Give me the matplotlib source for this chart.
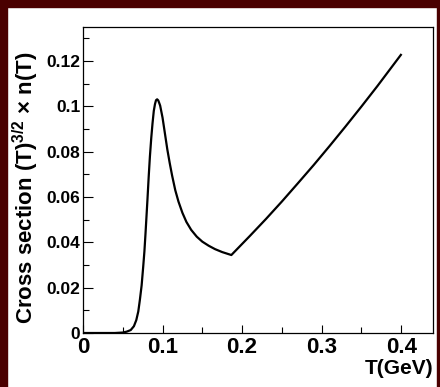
import matplotlib
matplotlib.use("Agg")
import matplotlib.pyplot as plt
from matplotlib.patches import Rectangle
from matplotlib.ticker import MultipleLocator

plt.rcParams['font.family'] = ['Liberation Sans', 'DejaVu Sans']
plt.rcParams['font.weight'] = 'bold'
plt.rcParams['mathtext.fontset'] = 'custom'
plt.rcParams['mathtext.rm'] = 'Liberation Sans:bold'
plt.rcParams['mathtext.bf'] = 'Liberation Sans:bold'

# curve
temp = [0.0, 0.04, 0.05, 0.055, 0.06, 0.064, 0.067, 0.0695, 0.0715, 0.0737,
        0.0757, 0.0772, 0.0786, 0.081, 0.0826, 0.0841, 0.0858, 0.0874, 0.089,
        0.0905, 0.0918, 0.0932, 0.0946, 0.096, 0.097, 0.100, 0.103, 0.106,
        0.109, 0.112, 0.116, 0.120, 0.125, 0.130, 0.136, 0.143, 0.150, 0.158,
        0.166, 0.175, 0.1865, 0.21, 0.23, 0.25, 0.27, 0.29, 0.31, 0.33, 0.35,
        0.37, 0.3996]
xsec = [0.0, 0.0, 0.0002, 0.0006, 0.0013, 0.003, 0.0057, 0.0095, 0.0146, 0.021,
        0.0293, 0.036, 0.044, 0.0587, 0.069, 0.0778, 0.086, 0.0925, 0.098,
        0.101, 0.1027, 0.1031, 0.1026, 0.1013, 0.1003, 0.095, 0.088, 0.081,
        0.075, 0.0695, 0.063, 0.058, 0.053, 0.049, 0.0455, 0.0425, 0.0403, 0.0385,
        0.037, 0.0357, 0.0344, 0.0429, 0.0503, 0.058, 0.066, 0.0741, 0.0825, 0.0911, 0.0999,
        0.1089, 0.1227]

fig = plt.figure(figsize=(4.4, 3.87), dpi=100)
red = '#4a0000'
fig.patches.append(Rectangle((0, 0), 7 / 440, 1, transform=fig.transFigure, color=red, zorder=-5))
fig.patches.append(Rectangle((0, 1 - 7 / 387), 1, 7 / 387, transform=fig.transFigure, color=red, zorder=-5))
fig.patches.append(Rectangle((1 - 3 / 440, 0), 3 / 440, 1, transform=fig.transFigure, color=red, zorder=-5))

ax = fig.add_axes([83 / 440, 54 / 387, 350 / 440, 306 / 387])
ax.plot(temp, xsec, color='black', lw=1.6)
ax.set_xlim(0, 0.44)
ax.set_ylim(0, 0.135)

ax.xaxis.set_major_locator(MultipleLocator(0.1))
ax.xaxis.set_minor_locator(MultipleLocator(0.05))
ax.yaxis.set_major_locator(MultipleLocator(0.02))
ax.yaxis.set_minor_locator(MultipleLocator(0.01))
ax.tick_params(which='both', direction='in', top=False, right=False, width=0.8)
ax.tick_params(axis='y', which='major', length=7, pad=2, labelsize=12.5)
ax.tick_params(axis='y', which='minor', length=4)
ax.tick_params(axis='x', which='major', length=6, pad=3, labelsize=16)
ax.tick_params(axis='x', which='minor', length=4)
for s in ax.spines.values():
    s.set_linewidth(0.9)

ax.xaxis.set_major_formatter(plt.FuncFormatter(lambda v, p: '0' if abs(v) < 1e-9 else f'{v:g}'))
ax.yaxis.set_major_formatter(plt.FuncFormatter(lambda v, p: '0' if abs(v) < 1e-9 else f'{v:g}'))

ax.set_xlabel('T(GeV)', fontsize=15, fontweight='bold', ha='right')
ax.xaxis.set_label_coords(1.0, -0.085)
ax.set_ylabel(r'Cross section (T)$^{3/2}$ $\times$ n(T)', fontsize=16, fontweight='bold')
ax.yaxis.set_label_coords(-0.12, 0.475)

fig.savefig('out.png', dpi=100)
